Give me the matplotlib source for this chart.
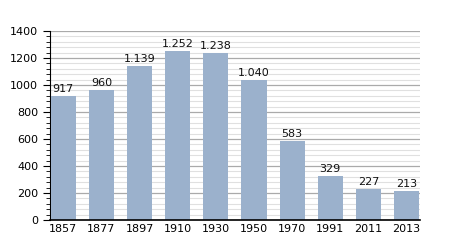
import matplotlib
matplotlib.use("Agg")
import matplotlib.pyplot as plt
from matplotlib.ticker import MultipleLocator

years = ["1857", "1877", "1897", "1910", "1930", "1950", "1970", "1991", "2011", "2013"]
population = [917, 960, 1139, 1252, 1238, 1040, 583, 329, 227, 213]
labels = ["917", "960", "1.139", "1.252", "1.238", "1.040", "583", "329", "227", "213"]

fig = plt.figure(figsize=(4.5, 2.5), dpi=100)
ax = fig.add_axes([0.111, 0.12, 0.822, 0.756])
x = list(range(len(years)))

ax.set_xlim(-0.35, 9.35)
ax.set_ylim(0, 1400)
ax.yaxis.set_major_locator(MultipleLocator(200))
ax.yaxis.set_minor_locator(MultipleLocator(40))
ax.set_xticks(x)
ax.set_xticklabels(years)
ax.tick_params(axis="x", length=0, labelsize=8, pad=3)
ax.tick_params(axis="y", which="major", length=5, labelsize=8, direction="out")
ax.tick_params(axis="y", which="minor", length=3, direction="out")
ax.grid(axis="y", which="major", color="#aaaaaa", linewidth=0.9)
ax.grid(axis="y", which="minor", color="#e0e0e0", linewidth=0.8)
ax.set_axisbelow(True)

ax.bar(x, population, width=0.66, color="#9bb1cc", zorder=10)
for xi, v, lab in zip(x, population, labels):
    ax.text(xi, v + 15, lab, ha="center", va="bottom", fontsize=8, color="#111111", zorder=11)

for s in ["top", "right"]:
    ax.spines[s].set_visible(False)
ax.spines["left"].set_color("black")
ax.spines["bottom"].set_color("black")
ax.spines["bottom"].set_linewidth(1.2)
ax.spines["bottom"].set_zorder(12)
fig.savefig("out.png", dpi=100)
